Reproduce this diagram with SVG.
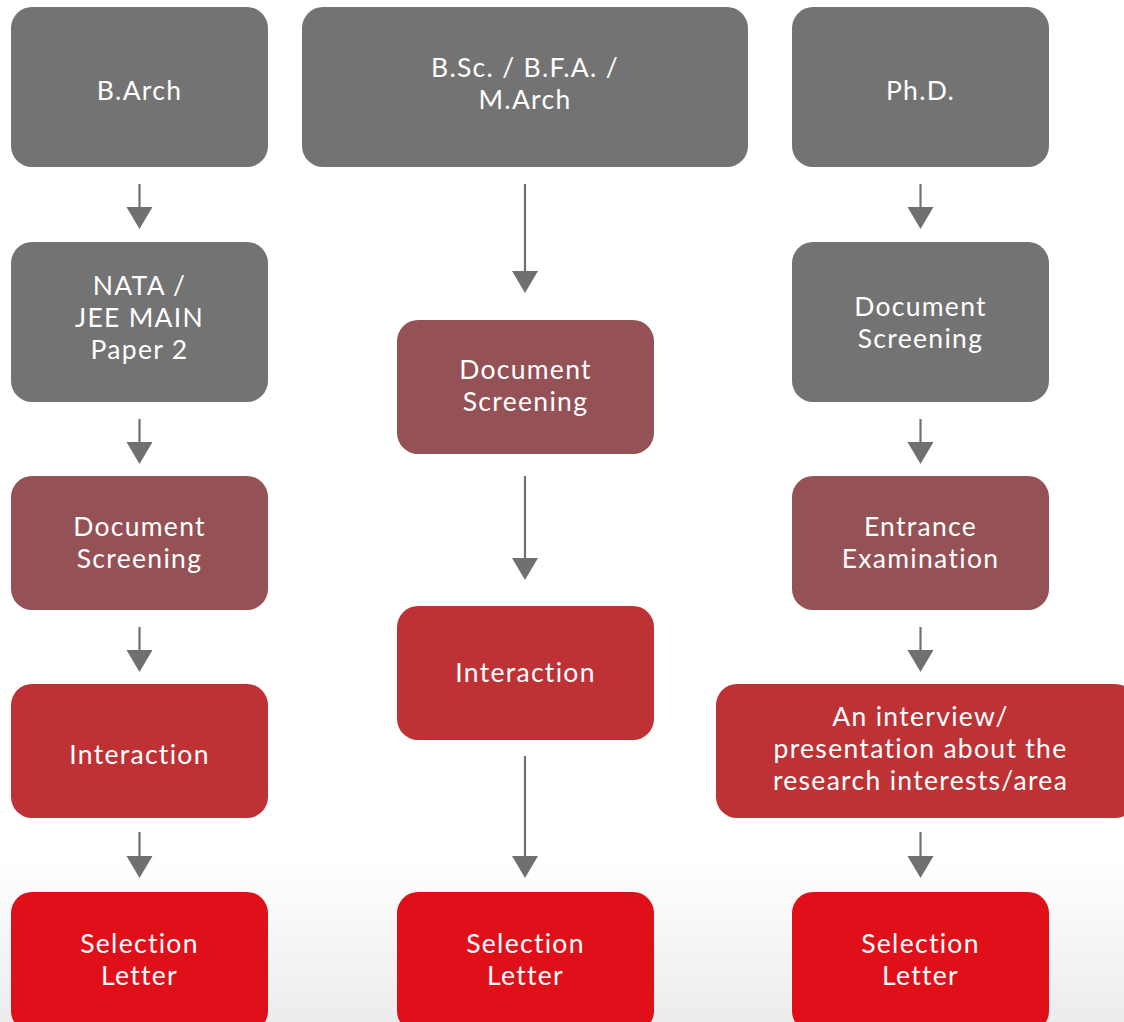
<svg xmlns="http://www.w3.org/2000/svg" width="1124" height="1022" viewBox="0 0 1124 1022">
<defs>
<linearGradient id="bg" x1="0" y1="0" x2="0" y2="1022" gradientUnits="userSpaceOnUse">
<stop offset="0" stop-color="#ffffff"/>
<stop offset="0.84" stop-color="#ffffff"/>
<stop offset="1" stop-color="#ececec"/>
</linearGradient>
<style>
.gray{fill:#737373}
.brown{fill:#955256}
.red{fill:#be3236}
.bright{fill:#e0101a}
text{font-family:"Lato","Open Sans","Liberation Sans",sans-serif;font-size:26.5px;font-weight:400;letter-spacing:1.3px;fill:#ffffff;text-anchor:middle}
.arrow{stroke:#707070;stroke-width:2.2;fill:none}
.head{fill:#707070}
</style>
</defs>
<rect x="0" y="0" width="1124" height="1022" fill="url(#bg)"/>
<g id="connectors">
<path class="arrow" d="M139.5,184 V208"/><path class="head" d="M126.5,207 H152.5 L139.5,229 Z"/>
<path class="arrow" d="M139.5,419 V443"/><path class="head" d="M126.5,442 H152.5 L139.5,464 Z"/>
<path class="arrow" d="M139.5,627 V651"/><path class="head" d="M126.5,650 H152.5 L139.5,672 Z"/>
<path class="arrow" d="M139.5,832 V857"/><path class="head" d="M126.5,856 H152.5 L139.5,878 Z"/>
<path class="arrow" d="M525,184 V272"/><path class="head" d="M512,271 H538 L525,293 Z"/>
<path class="arrow" d="M525,476 V559"/><path class="head" d="M512,558 H538 L525,580 Z"/>
<path class="arrow" d="M525,756 V857"/><path class="head" d="M512,856 H538 L525,878 Z"/>
<path class="arrow" d="M920.5,184 V208"/><path class="head" d="M907.5,207 H933.5 L920.5,229 Z"/>
<path class="arrow" d="M920.5,419 V443"/><path class="head" d="M907.5,442 H933.5 L920.5,464 Z"/>
<path class="arrow" d="M920.5,627 V651"/><path class="head" d="M907.5,650 H933.5 L920.5,672 Z"/>
<path class="arrow" d="M920.5,832 V857"/><path class="head" d="M907.5,856 H933.5 L920.5,878 Z"/>
</g>
<g id="n-barch"><rect class="gray" x="11" y="7" width="257" height="160" rx="21"/><text x="139.5" y="100">B.Arch</text></g>
<g id="n-nata"><rect class="gray" x="11" y="242" width="257" height="160" rx="21"/><text x="139.5" y="295">NATA /</text><text x="139.5" y="327">JEE MAIN</text><text x="139.5" y="359">Paper 2</text></g>
<g id="n-doc-left"><rect class="brown" x="11" y="476" width="257" height="134" rx="21"/><text x="139.5" y="536">Document</text><text x="139.5" y="568">Screening</text></g>
<g id="n-int-left"><rect class="red" x="11" y="684" width="257" height="134" rx="21"/><text x="139.5" y="764">Interaction</text></g>
<g id="n-sel-left"><rect class="bright" x="11" y="892" width="257" height="140" rx="21"/><text x="139.5" y="953">Selection</text><text x="139.5" y="985">Letter</text></g>
<g id="n-bsc"><rect class="gray" x="302" y="7" width="446" height="160" rx="21"/><text x="525" y="77">B.Sc. / B.F.A. /</text><text x="525" y="109">M.Arch</text></g>
<g id="n-doc-mid"><rect class="brown" x="397" y="320" width="257" height="134" rx="21"/><text x="525.5" y="379">Document</text><text x="525.5" y="411">Screening</text></g>
<g id="n-int-mid"><rect class="red" x="397" y="606" width="257" height="134" rx="21"/><text x="525.5" y="682">Interaction</text></g>
<g id="n-sel-mid"><rect class="bright" x="397" y="892" width="257" height="140" rx="21"/><text x="525.5" y="953">Selection</text><text x="525.5" y="985">Letter</text></g>
<g id="n-phd"><rect class="gray" x="792" y="7" width="257" height="160" rx="21"/><text x="920.5" y="100">Ph.D.</text></g>
<g id="n-doc-right"><rect class="gray" x="792" y="242" width="257" height="160" rx="21"/><text x="920.5" y="316">Document</text><text x="920.5" y="348">Screening</text></g>
<g id="n-entrance"><rect class="brown" x="792" y="476" width="257" height="134" rx="21"/><text x="920.5" y="536">Entrance</text><text x="920.5" y="568">Examination</text></g>
<g id="n-interview"><rect class="red" x="716" y="684" width="420" height="134" rx="21"/><text x="920.5" y="726">An interview/</text><text x="920.5" y="758">presentation about the</text><text x="920.5" y="790">research interests/area</text></g>
<g id="n-sel-right"><rect class="bright" x="792" y="892" width="257" height="140" rx="21"/><text x="920.5" y="953">Selection</text><text x="920.5" y="985">Letter</text></g>
</svg>
